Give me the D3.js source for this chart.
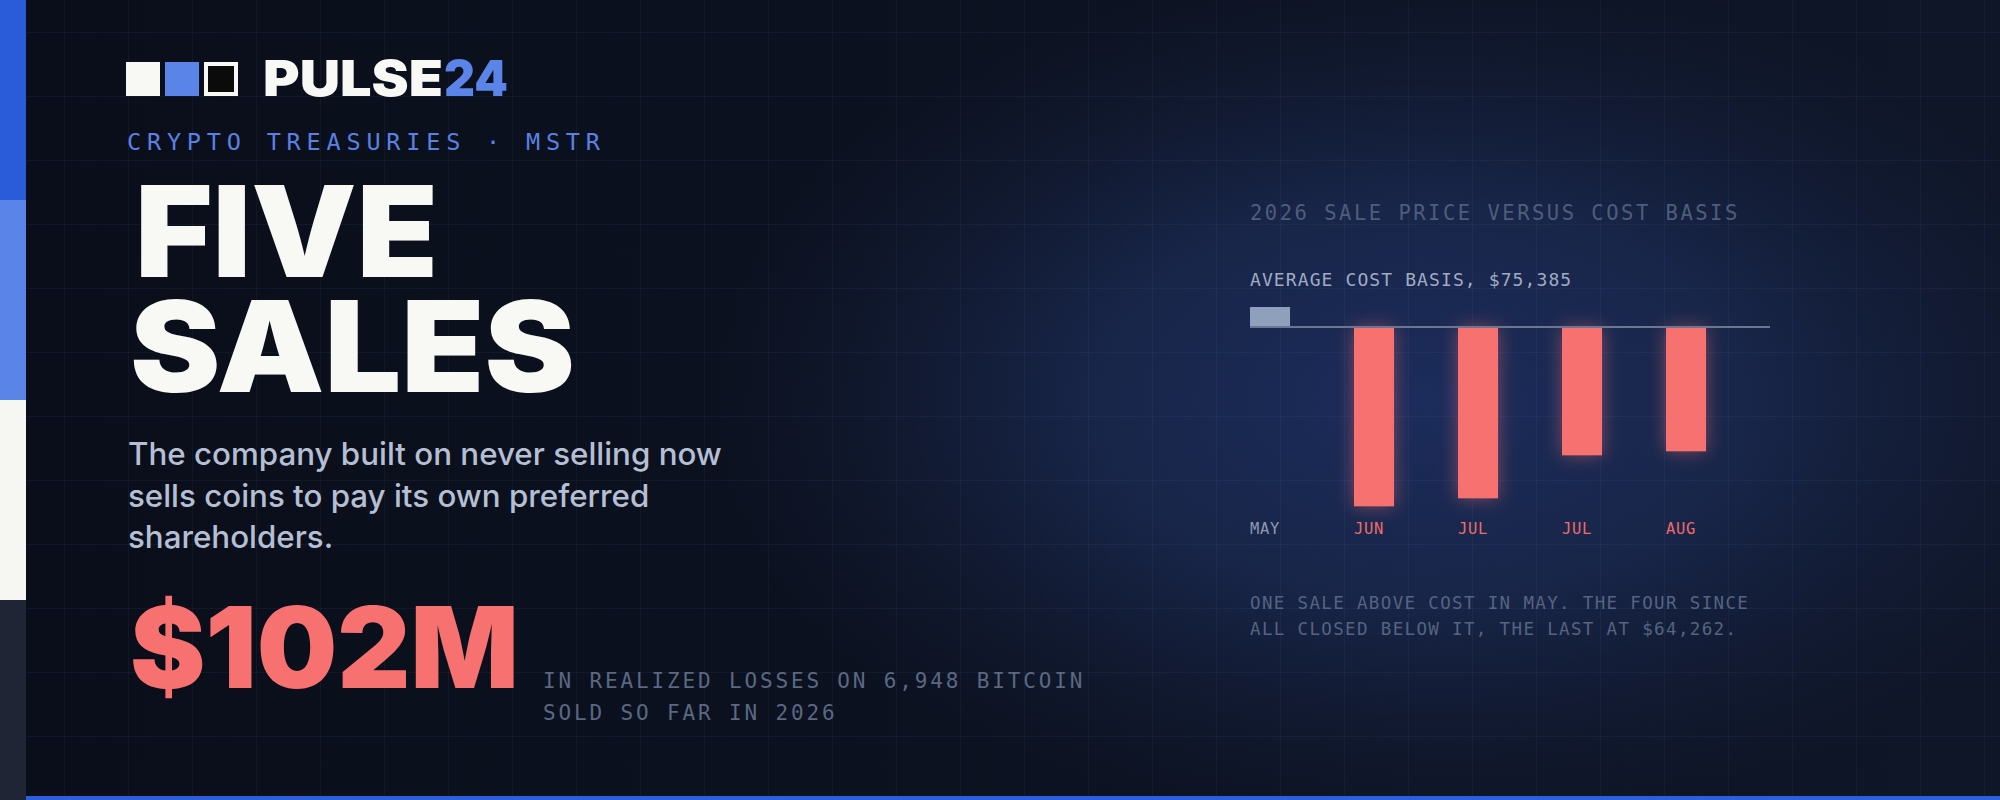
<!DOCTYPE html>
<html>
<head>
<meta charset="utf-8">
<script src="https://cdn.jsdelivr.net/npm/d3@7"></script>
<style>
  html, body { margin: 0; padding: 0; background: #0b0f1c; }
  svg { display: block; }
</style>
</head>
<body>
<div id="chart"></div>
<script>
// ---- data ----
const months = ["MAY", "JUN", "JUL", "JUL", "AUG"];
const salePrices = [77175, 59340, 60056, 63904, 64262];
const costBasis = 75385;
const costLabel = "AVERAGE COST BASIS, $75,385";
const chartTitle = "2026 SALE PRICE VERSUS COST BASIS";
const noteLines = ["ONE SALE ABOVE COST IN MAY. THE FOUR SINCE", "ALL CLOSED BELOW IT, THE LAST AT $64,262."];
const headlineLines = ["FIVE", "SALES"];
const deckLines = ["The company built on never selling now", "sells coins to pay its own preferred", "shareholders."];
const bigNumber = "$102M";
const bigNumberCaption = ["IN REALIZED LOSSES ON 6,948 BITCOIN", "SOLD SO FAR IN 2026"];
const kicker = "CRYPTO TREASURIES · MSTR";

const W = 2000, H = 800;
const MONO = "'DejaVu Sans Mono', 'Liberation Mono', monospace";
const DISPLAY = "Inter, Roboto, 'Noto Sans', sans-serif";

const svg = d3.select("#chart").append("svg").attr("width", W).attr("height", H);
const defs = svg.append("defs");

// background gradients
const lg = defs.append("linearGradient").attr("id", "bgLin").attr("x1", 0).attr("x2", 1).attr("y1", 0).attr("y2", 0);
lg.append("stop").attr("offset", "0%").attr("stop-color", "#0a0e1a");
lg.append("stop").attr("offset", "100%").attr("stop-color", "#0f1628");

const rg = defs.append("radialGradient").attr("id", "glow").attr("cx", "50%").attr("cy", "50%").attr("r", "50%");
rg.append("stop").attr("offset", "0%").attr("stop-color", "#1c2c5c").attr("stop-opacity", 1);
rg.append("stop").attr("offset", "45%").attr("stop-color", "#1a2950").attr("stop-opacity", 0.85);
rg.append("stop").attr("offset", "100%").attr("stop-color", "#141f3c").attr("stop-opacity", 0);

const shadow = defs.append("filter").attr("id", "redGlow").attr("x", "-100%").attr("y", "-50%").attr("width", "300%").attr("height", "200%");
shadow.append("feGaussianBlur").attr("in", "SourceGraphic").attr("stdDeviation", 9).attr("result", "b");
shadow.append("feColorMatrix").attr("in", "b").attr("type", "matrix")
  .attr("values", "1 0 0 0 0  0 1 0 0 0  0 0 1 0 0  0 0 0 0.45 0").attr("result", "bb");
const fm = shadow.append("feMerge");
fm.append("feMergeNode").attr("in", "bb");
fm.append("feMergeNode").attr("in", "SourceGraphic");

svg.append("rect").attr("width", W).attr("height", H).attr("fill", "url(#bgLin)");
svg.append("ellipse").attr("cx", 1420).attr("cy", 400).attr("rx", 720).attr("ry", 430).attr("fill", "url(#glow)");

// grid
const grid = svg.append("g").attr("stroke", "rgba(90,120,190,0.09)").attr("stroke-width", 1);
grid.selectAll("line.v").data(d3.range(64, W, 64)).join("line")
  .attr("x1", d => d + 0.5).attr("x2", d => d + 0.5).attr("y1", 0).attr("y2", H);
grid.selectAll("line.h").data(d3.range(32, H, 64)).join("line")
  .attr("y1", d => d + 0.5).attr("y2", d => d + 0.5).attr("x1", 0).attr("x2", W);

// left stripe + bottom bar
const stripeColors = ["#2a5bd9", "#5b84e8", "#f6f6f2", "#1f2534"];
svg.selectAll("rect.stripe").data(stripeColors).join("rect")
  .attr("x", 0).attr("y", (d, i) => i * 200).attr("width", 26).attr("height", 200).attr("fill", d => d);
svg.append("rect").attr("x", 26).attr("y", 796).attr("width", W - 26).attr("height", 4).attr("fill", "#2b5fde");

// logo
svg.append("rect").attr("x", 126).attr("y", 62).attr("width", 34).attr("height", 34).attr("fill", "#f8f8f5");
svg.append("rect").attr("x", 165).attr("y", 62).attr("width", 34).attr("height", 34).attr("fill", "#5b84e8");
svg.append("rect").attr("x", 204).attr("y", 62).attr("width", 34).attr("height", 34).attr("fill", "#f8f8f5");
svg.append("rect").attr("x", 208).attr("y", 66).attr("width", 26).attr("height", 26).attr("fill", "#0b0b0b");
svg.append("text").attr("x", 263).attr("y", 96).attr("font-family", DISPLAY).attr("font-weight", 900)
  .attr("font-size", 50).attr("fill", "#f8f8f5").attr("textLength", 180).attr("lengthAdjust", "spacingAndGlyphs").text("PULSE");
svg.append("text").attr("x", 444).attr("y", 96).attr("font-family", DISPLAY).attr("font-weight", 900)
  .attr("font-size", 50).attr("fill", "#5b84e8").attr("textLength", 64).attr("lengthAdjust", "spacingAndGlyphs").text("24");

// kicker
svg.append("text").attr("x", 127).attr("y", 150).attr("font-family", MONO).attr("font-size", 23.5)
  .attr("letter-spacing", 5.8).attr("fill", "#5a80e4").text(kicker);

// headline
const headWidths = [303, 445];
svg.selectAll("text.head").data(headlineLines).join("text")
  .attr("x", (d, i) => i === 0 ? 135 : 130).attr("y", (d, i) => 277 + i * 115)
  .attr("font-family", DISPLAY).attr("font-weight", 900).attr("font-size", 126)
  .attr("fill", "#f8f8f5").attr("textLength", (d, i) => headWidths[i]).attr("lengthAdjust", "spacingAndGlyphs")
  .text(d => d);

// deck
svg.selectAll("text.deck").data(deckLines).join("text")
  .attr("x", 128).attr("y", (d, i) => 465 + i * 41.5)
  .attr("font-family", DISPLAY).attr("font-weight", 500).attr("font-size", 31.3)
  .attr("fill", "#b5bfd3").text(d => d);

// big number
svg.append("text").attr("x", 130).attr("y", 688).attr("font-family", DISPLAY).attr("font-weight", 900)
  .attr("font-size", 113).attr("fill", "#f87171").attr("textLength", 389).attr("lengthAdjust", "spacingAndGlyphs").text(bigNumber);
svg.selectAll("text.cap").data(bigNumberCaption).join("text")
  .attr("x", 543).attr("y", (d, i) => 688 + i * 32)
  .attr("font-family", MONO).attr("font-size", 21).attr("letter-spacing", 2.85)
  .attr("fill", "#5a6882").text(d => d);

// ---- chart ----
const x = d3.scaleBand().domain(d3.range(months.length)).range([1250, 1770]).paddingInner(0).paddingOuter(0);
const barW = x.bandwidth() * 0.385;
const y = d3.scaleLinear().domain([58000, 78000]).range([521.3, 297.8]);
const y0 = y(costBasis);

svg.append("text").attr("x", 1250).attr("y", 220).attr("font-family", MONO).attr("font-size", 20.5)
  .attr("letter-spacing", 2.5).attr("fill", "#4e5d7c").text(chartTitle);
svg.append("text").attr("x", 1250).attr("y", 286).attr("font-family", MONO).attr("font-size", 18)
  .attr("letter-spacing", 1.1).attr("fill", "#a0abc2").text(costLabel);

const bars = svg.append("g");
bars.selectAll("rect").data(salePrices).join("rect")
  .attr("x", (d, i) => x(i))
  .attr("width", barW)
  .attr("y", d => d >= costBasis ? y(d) : y0 + 1)
  .attr("height", d => d >= costBasis ? (y0 - 1) - y(d) : y(d) - (y0 + 1))
  .attr("fill", d => d >= costBasis ? "#8fa0bd" : "#f87171")
  .attr("filter", d => d >= costBasis ? null : "url(#redGlow)");

svg.append("line").attr("x1", 1250).attr("x2", 1770).attr("y1", y0).attr("y2", y0)
  .attr("stroke", "#6b7690").attr("stroke-width", 2);

svg.selectAll("text.mlab").data(months).join("text")
  .attr("x", (d, i) => x(i)).attr("y", 534)
  .attr("font-family", MONO).attr("font-size", 15.5).attr("letter-spacing", 0.7)
  .attr("fill", (d, i) => salePrices[i] >= costBasis ? "#8d9ab3" : "#ec6b6b")
  .text(d => d);

svg.selectAll("text.note").data(noteLines).join("text")
  .attr("x", 1250).attr("y", (d, i) => 609 + i * 26)
  .attr("font-family", MONO).attr("font-size", 17.5).attr("letter-spacing", 1.35)
  .attr("fill", "#556480").text(d => d);
</script>
</body>
</html>
